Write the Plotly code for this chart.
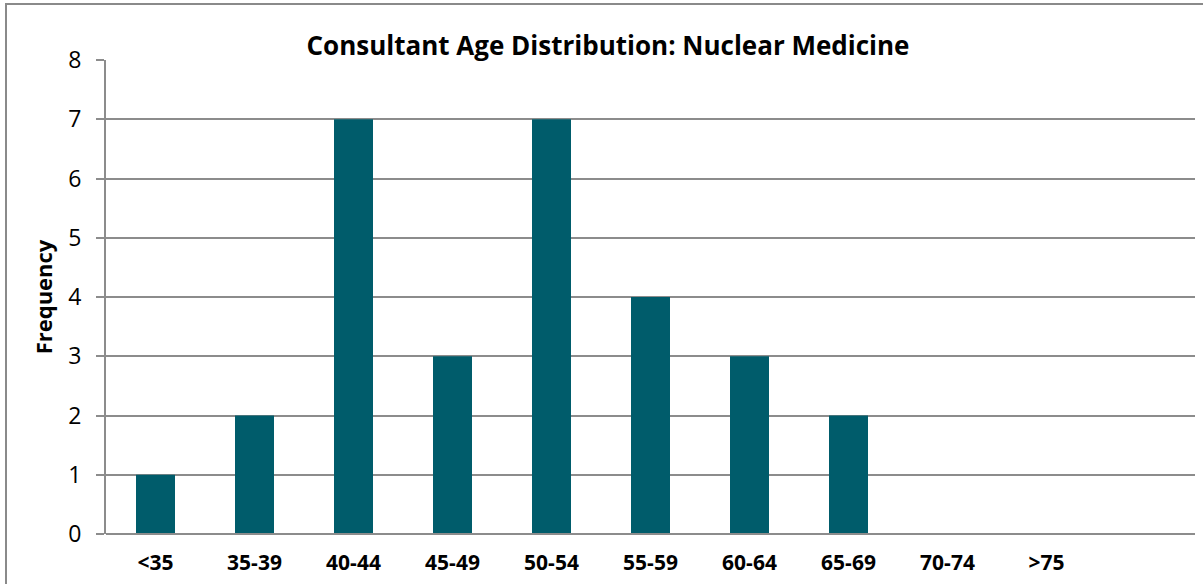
import plotly.graph_objects as go

categories = ["<35", "35-39", "40-44", "45-49", "50-54", "55-59", "60-64", "65-69", "70-74", ">75", " "]
frequency = [1, 2, 7, 3, 7, 4, 3, 2, 0, 0, None]
y_ticks = [0, 1, 2, 3, 4, 5, 6, 7, 8]

BAR = "#005C6B"
GRID = "#8C8C8C"
FONT = "Open Sans"

fig = go.Figure(go.Bar(x=categories, y=frequency, marker=dict(color=BAR, line=dict(width=0))))

fig.update_layout(
    width=1203, height=584,
    margin=dict(l=106, r=8, t=60, b=50),
    paper_bgcolor="white", plot_bgcolor="white",
    bargap=0.606,
    showlegend=False,
    title=dict(text="<b>Consultant Age Distribution: Nuclear Medicine</b>",
               x=608 / 1203, xref="container", xanchor="center", y=1 - 46 / 584, yanchor="middle",
               font=dict(family=FONT, size=26, color="black")),
    font=dict(family=FONT, color="black"),
)
fig.update_xaxes(
    type="category", categoryorder="array", categoryarray=categories,
    showgrid=False, showline=False, ticks="",
    tickfont=dict(family=FONT, size=21, color="black"),
    ticklabelstandoff=14,
    tickprefix="<b>", ticksuffix="</b>",
)
fig.update_yaxes(
    range=[0, 8], tickvals=y_ticks,
    showgrid=True, gridcolor=GRID, gridwidth=2,
    showline=True, linecolor=GRID, linewidth=2,
    ticks="outside", ticklen=8, tickcolor=GRID, tickwidth=2,
    tickfont=dict(family=FONT, size=23, color="black"),
    ticklabelstandoff=10,
    zeroline=False,
    title=dict(text="<b>Frequency</b>", font=dict(family=FONT, size=22, color="black"), standoff=10),
)
fig.add_shape(type="rect", xref="paper", yref="paper",
              x0=(6 - 106) / 1089, x1=1.2, y0=-0.3, y1=(534 - 4) / 474,
              line=dict(color="#8A8A8A", width=2), fillcolor="rgba(0,0,0,0)", layer="below")
fig.add_shape(type="line", xref="paper", yref="paper", x0=0, x1=1, y0=0, y1=0,
              line=dict(color=GRID, width=2))

fig.write_html("out.html", config={"displayModeBar": False},
               post_script="document.body.style.margin='0';document.body.style.overflow='hidden';")
